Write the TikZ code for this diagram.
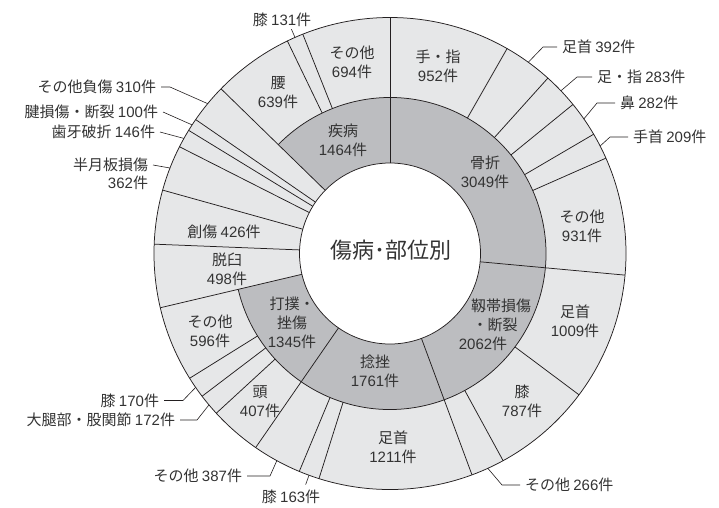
\documentclass[tikz,border=0pt]{standalone}
\usepackage{fontspec}
\setmainfont{Noto Sans CJK JP}
\newfontfamily\digitfont{Liberation Sans}
\newcommand{\dnum}[1]{{\digitfont #1}}
\definecolor{outerg}{HTML}{E6E7E8}
\definecolor{innerg}{HTML}{BCBDC0}
\definecolor{ink}{HTML}{333333}
\definecolor{linec}{HTML}{231F20}
\begin{document}
\begin{tikzpicture}[x=1pt,y=1pt,
  lab/.style={font=\fontsize{15}{19}\selectfont, text=ink, align=center, inner sep=1pt},
  olab/.style={lab, outer sep=4pt},
  edge/.style={draw=linec, line width=0.75pt},
  lead/.style={draw=linec, line width=0.6pt}]
\useasboundingbox (0,0) rectangle (719,-507);
\begin{scope}[shift={(390,-253.5)}]
  \fill[outerg] (0,0) circle[radius=236];
  \fill[innerg] (-166.714:90.5) arc[start angle=-166.714, end angle=135.739, radius=90.5]
     -- (135.739:156) arc[start angle=135.739, end angle=-166.714, radius=156] -- cycle;
  \fill[white] (0,0) circle[radius=90.5];
  \draw[edge] (0,0) circle[radius=236];
  \draw[edge] (0,0) circle[radius=90.5];
  \draw[edge] (-166.714:156) arc[start angle=-166.714, end angle=135.739, radius=156];
  \foreach \a in {90,-5.256,-69.677,-124.694,-166.714,-182.272,-195.581,-206.891,-211.452,-214.576,135.739}
    \draw[edge] (\a:90.5) -- (\a:236);
  \foreach \a in {60.258,48.011,39.170,30.359,23.830,-36.779,-61.367,-107.511,-112.603,-137.409,-142.783,-148.094,115.775,111.683}
    \draw[edge] (\a:156) -- (\a:236);
  % leader targets on the outer rim
  \coordinate (p131) at (113.73:236); \coordinate (q131) at (113.73:245);
  \coordinate (p392) at (54.13:236);
  \coordinate (p283) at (43.59:236);
  \coordinate (p282) at (34.77:236);
  \coordinate (p209) at (27.09:236);
  \coordinate (p310) at (140.58:236);
  \coordinate (p100) at (146.98:236);
  \coordinate (p146) at (150.82:236);
  \coordinate (p362) at (158.76:236);
  \coordinate (p170) at (-145.44:236);
  \coordinate (p172) at (-140.10:236);
  \coordinate (p387) at (-118.65:236);
  \coordinate (p163) at (-110.06:236); \coordinate (q163) at (-110.06:246);
  \coordinate (p266) at (-65.52:236);
\end{scope}

% centre title
\node[font=\fontsize{22}{26}\selectfont, text=ink] (title) at (391,-250) {傷病･部位別};

% inner ring labels
\node[lab] (c1) at (485,-172.5) {骨折\\\dnum{3049}件};
\node[lab] (c2) at (495,-325) {\hspace*{12pt}靱帯損傷\\・断裂\\\dnum{2062}件\hspace*{24pt}};
\node[lab] (c3) at (375,-371) {捻挫\\\dnum{1761}件};
\node[lab] (c4) at (292,-323) {打撲・\\挫傷\\\dnum{1345}件};
\node[lab] (c5) at (343,-140) {疾病\\\dnum{1464}件};

% outer ring labels inside
\node[lab] (o1) at (438,-66) {手・指\\\dnum{952}件};
\node[lab] (o2) at (582,-226) {その他\\\dnum{931}件};
\node[lab] (o3) at (575,-321) {足首\\\dnum{1009}件};
\node[lab] (o4) at (522,-401) {膝\\\dnum{787}件};
\node[lab] (o5) at (393,-447.5) {足首\\\dnum{1211}件};
\node[lab] (o6) at (260,-402) {頭\\\dnum{407}件};
\node[lab] (o7) at (210,-331) {その他\\\dnum{596}件};
\node[lab] (o8) at (227,-269) {脱臼\\\dnum{498}件};
\node[lab] (o9) at (224,-232) {創傷 \dnum{426}件};
\node[lab] (o10) at (278,-92.5) {腰\\\dnum{639}件};
\node[lab] (o11) at (352,-62.5) {その他\\\dnum{694}件};

% outside labels with leaders
\node[lab] (l131) at (282,-20) {膝 \dnum{131}件};
\draw[lead] (p131) -- (q131);

\coordinate (e392) at (543,-47);
\node[olab, anchor=west] (l392) at (557,-47) {足首 \dnum{392}件};
\draw[lead] (l392.west) -- (e392) -- (p392);

\coordinate (e283) at (577,-77);
\node[olab, anchor=west] (l283) at (592,-77) {足・指 \dnum{283}件};
\draw[lead] (l283.west) -- (e283) -- (p283);

\coordinate (e282) at (597,-103);
\node[olab, anchor=west] (l282) at (615,-103) {鼻 \dnum{282}件};
\draw[lead] (l282.west) -- (e282) -- (p282);

\coordinate (e209) at (610,-137);
\node[olab, anchor=west] (l209) at (628,-137) {手首 \dnum{209}件};
\draw[lead] (l209.west) -- (e209) -- (p209);

\coordinate (e310) at (170,-87);
\node[olab, anchor=east] (l310) at (161,-87) {その他負傷 \dnum{310}件};
\draw[lead] (l310.east) -- (e310) -- (p310);

\node[olab, anchor=east] (l100) at (163,-112) {腱損傷・断裂 \dnum{100}件};
\draw[lead] (l100.east) -- (p100);

\node[olab, anchor=east] (l146) at (160,-132) {歯牙破折 \dnum{146}件};
\draw[lead] (l146.east) -- (p146);

\node[olab, anchor=east] (l362) at (153,-165) {半月板損傷};
\node[olab, anchor=east] (l362n) at (153,-183) {\dnum{362}件};
\draw[lead] (l362.east) -- (p362);

\coordinate (e170) at (183,-400.5);
\node[olab, anchor=east] (l170) at (164,-400.5) {膝 \dnum{170}件};
\draw[lead] (l170.east) -- (e170) -- (p170);

\coordinate (e172) at (197,-420);
\node[olab, anchor=east] (l172) at (180,-420) {大腿部・股関節 \dnum{172}件};
\draw[lead] (l172.east) -- (e172) -- (p172);

\coordinate (e387) at (270,-476);
\node[olab, anchor=east] (l387) at (247,-476) {その他 \dnum{387}件};
\draw[lead] (l387.east) -- (e387) -- (p387);

\node[lab] (l163) at (291,-497) {膝 \dnum{163}件};
\draw[lead] (p163) -- (q163);

\coordinate (e266) at (502,-485);
\node[olab, anchor=west] (l266) at (520,-485) {その他 \dnum{266}件};
\draw[lead] (l266.west) -- (e266) -- (p266);
\end{tikzpicture}
\end{document}
